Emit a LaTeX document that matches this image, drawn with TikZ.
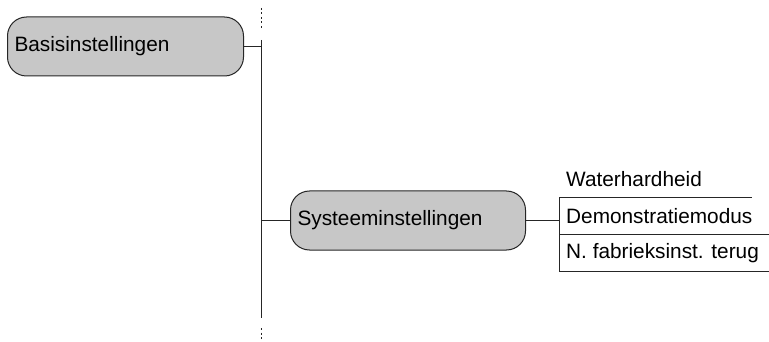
\documentclass[tikz,border=0pt]{standalone}
\usepackage{fontspec}
\setmainfont{Liberation Sans}
\usetikzlibrary{positioning, calc}

\begin{document}
\begin{tikzpicture}[x=1pt, y=-1pt,
    menubox/.style={draw=black!85, fill=black!22, line width=1pt, rounded corners=19pt,
      minimum height=59pt, inner xsep=7pt, inner ysep=0pt, align=left, anchor=west,
      font=\fontsize{20.8}{24}\selectfont},
    itemtext/.style={anchor=west, inner sep=0pt, font=\fontsize{20.8}{24}\selectfont},
    link/.style={line width=1pt, black!85}]
    \useasboundingbox (0,0) rectangle (769,342);
    % Menu boxes
    \node[menubox, text width=222pt] (basis) at (7,46.5) {Basisinstellingen};
    \node[menubox, text width=221pt] (systeem) at (290,220.5) {Systeeminstellingen};
    % Trunk with dotted ends
    \coordinate (trunktop) at (261,40);
    \coordinate (trunkbot) at (261,318);
    \coordinate (dottop) at (261,8);
    \coordinate (dotbot) at (261,341);
    \draw[link] (trunktop) -- (trunkbot);
    \draw[link, line width=0.8pt, dash pattern=on 2pt off 2.5pt] (dottop) -- ($(trunktop)+(0,-10)$);
    \draw[link, line width=0.8pt, dash pattern=on 2pt off 2.5pt] ($(trunkbot)+(0,10)$) -- (dotbot);
    \draw[link] (basis.east) -- (basis.east -| trunktop);
    \draw[link] (systeem.west) -- (systeem.west -| trunktop);
    % Submenu list
    \coordinate (ltop) at (559,198);
    \coordinate (lmid) at (559,234);
    \coordinate (lbot) at (559,271);
    \node[itemtext] (water) at (566,179) {Waterhardheid};
    \node[itemtext] (demo) at (566,216) {Demonstratiemodus};
    \node[itemtext] (fabriek) at (566,253) {N. fabrieksinst. terug};
    \draw[link] (systeem.east) -- (systeem.east -| ltop);
    \draw[link] (ltop) -- (lbot);
    \draw[link] (ltop) -- (752,198);
    \draw[link] (lmid) -- (769,234);
    \draw[link] (lbot) -- (769,271);
\end{tikzpicture}
\end{document}
